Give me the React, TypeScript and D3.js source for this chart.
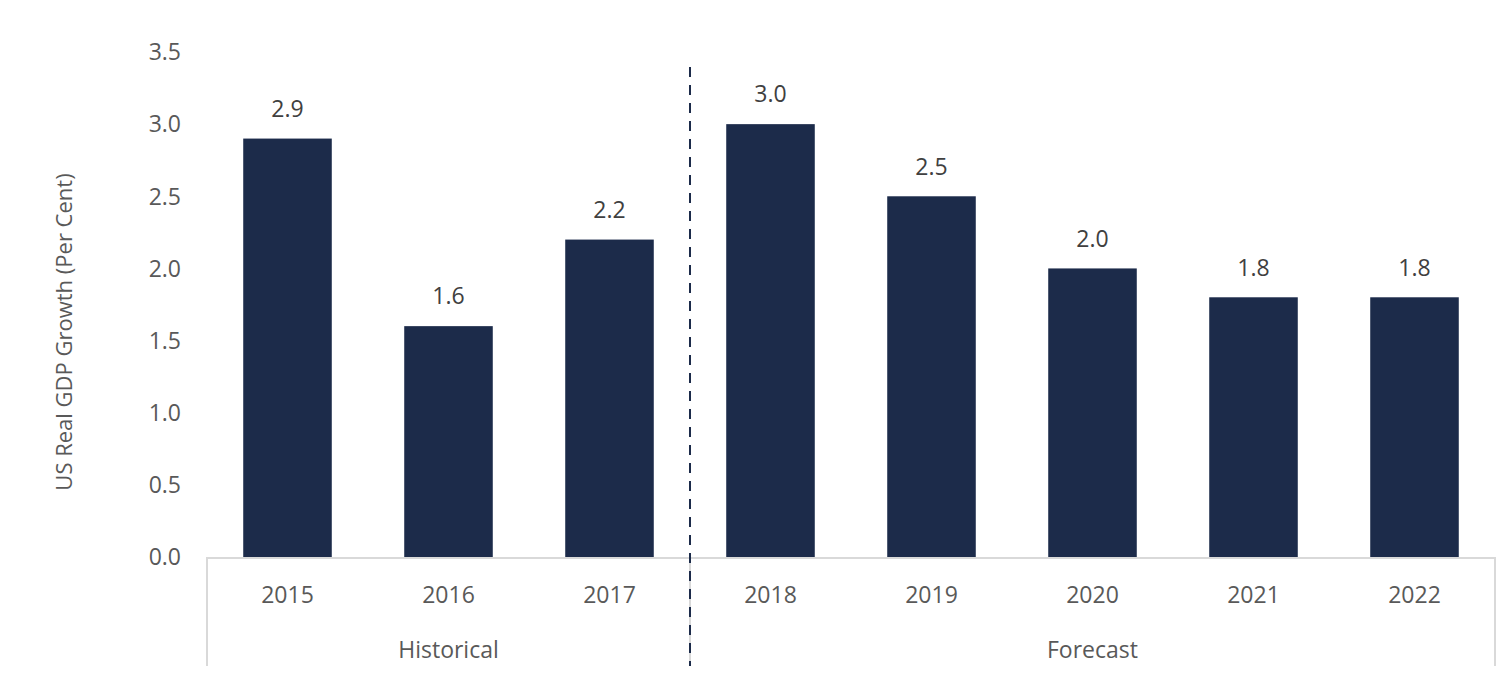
import React from "react";
import * as d3 from "d3";

// US real GDP growth, historical and forecast
const years = ["2015", "2016", "2017", "2018", "2019", "2020", "2021", "2022"];
const growth = [2.9, 1.6, 2.2, 3.0, 2.5, 2.0, 1.8, 1.8];
const groups = [
  { label: "Historical", from: "2015", to: "2017" },
  { label: "Forecast", from: "2018", to: "2022" },
];
const yTicks = [0, 0.5, 1, 1.5, 2, 2.5, 3, 3.5];

const W = 1500;
const H = 699;
const FONT = "'Open Sans', 'Segoe UI', sans-serif";

export default function App() {
  const x = d3.scaleBand().domain(years).range([207, 1495]).paddingInner(0.45).paddingOuter(0.225);
  const y = d3.scaleLinear().domain([0, 3.5]).range([557, 52]);
  const step = x.step();
  const bottom = 666;

  // boundary of a group, half a step from the band centre
  const edgeLeft = (yr: string) => x(yr)! + x.bandwidth() / 2 - step / 2;
  const edgeRight = (yr: string) => x(yr)! + x.bandwidth() / 2 + step / 2;
  const splitX = edgeRight("2017");

  return (
    <svg width={W} height={H} style={{ position: "absolute", left: 0, top: 0 }} fontFamily={FONT}>
      <rect width={W} height={H} fill="#fff" />

      {/* y tick labels */}
      {yTicks.map((t) => (
        <text key={t} x={181} y={y(t)} dy="0.36em" textAnchor="end" fontSize={23} fill="#595959">
          {d3.format(".1f")(t)}
        </text>
      ))}

      {/* y title */}
      <text
        transform={`translate(64,332) rotate(-90)`}
        textAnchor="middle"
        dy="0.36em"
        fontSize={22}
        fill="#595959"
      >
        US Real GDP Growth (Per Cent)
      </text>

      {/* bars */}
      {years.map((yr, i) => (
        <g key={yr}>
          <rect x={x(yr)} y={y(growth[i])} width={x.bandwidth()} height={y(0) - y(growth[i])} fill="#1c2b4a" />
          <text
            x={x(yr)! + x.bandwidth() / 2}
            y={y(growth[i]) - 30}
            dy="0.36em"
            textAnchor="middle"
            fontSize={23}
            fill="#404040"
          >
            {d3.format(".1f")(growth[i])}
          </text>
          <text
            x={x(yr)! + x.bandwidth() / 2}
            y={595}
            dy="0.36em"
            textAnchor="middle"
            fontSize={23}
            fill="#595959"
          >
            {yr}
          </text>
        </g>
      ))}

      {/* x axis and group separators */}
      <line x1={x.range()[0]} x2={x.range()[1]} y1={y(0) + 1} y2={y(0) + 1} stroke="#d9d9d9" strokeWidth={2} />
      {groups.map((g) => {
        const l = edgeLeft(g.from);
        const r = edgeRight(g.to);
        return (
          <g key={g.label}>
            <line x1={l} x2={l} y1={y(0)} y2={bottom} stroke="#d9d9d9" strokeWidth={2} />
            <line x1={r} x2={r} y1={y(0)} y2={bottom} stroke="#d9d9d9" strokeWidth={2} />
            <text x={(l + r) / 2} y={650} dy="0.36em" textAnchor="middle" fontSize={23} fill="#595959">
              {g.label}
            </text>
          </g>
        );
      })}

      {/* historical / forecast divider */}
      <line
        x1={splitX}
        x2={splitX}
        y1={67}
        y2={bottom}
        stroke="#1c2b4a"
        strokeWidth={2}
        strokeDasharray="10,8"
      />
    </svg>
  );
}
